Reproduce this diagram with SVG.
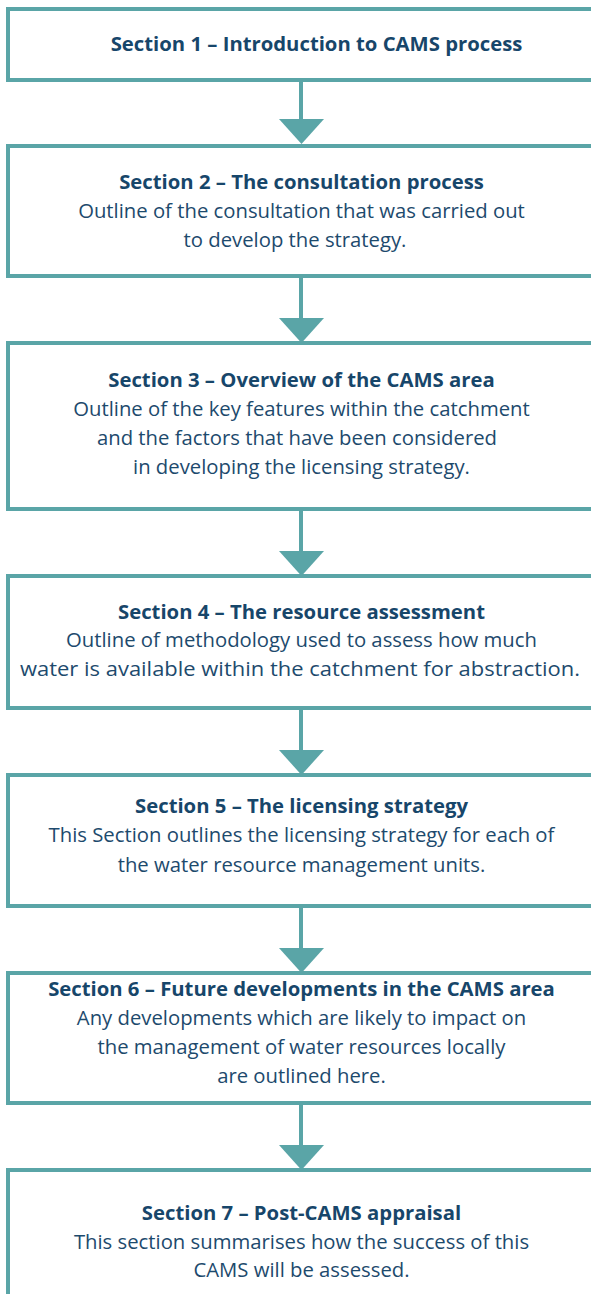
<svg xmlns="http://www.w3.org/2000/svg" width="591" height="1294" viewBox="0 0 591 1294">
  <style>
    .box { fill: #ffffff; stroke: #5aa5a7; stroke-width: 4; }
    .link { stroke: #5aa5a7; stroke-width: 4; fill: none; }
    .head { fill: #5aa5a7; stroke: none; }
    text { font-family: "Open Sans", "Liberation Sans", sans-serif; font-size: 20.3px; fill: #1d4a6d; text-anchor: middle; }
    .title { font-weight: bold; fill: #17466a; }
  </style>
  <rect width="591" height="1294" fill="#ffffff"/>

  <!-- connectors: shaft plus solid triangular head -->
  <g id="connectors">
    <line class="link" x1="301" y1="82" x2="301" y2="120"/>
    <polygon class="head" points="279,119 324,119 301.5,144"/>
    <line class="link" x1="301" y1="278" x2="301" y2="319"/>
    <polygon class="head" points="279,318 324,318 301.5,343"/>
    <line class="link" x1="301" y1="511" x2="301" y2="552"/>
    <polygon class="head" points="279,551 324,551 301.5,576"/>
    <line class="link" x1="301" y1="710" x2="301" y2="751"/>
    <polygon class="head" points="279,750 324,750 301.5,775"/>
    <line class="link" x1="301" y1="908" x2="301" y2="949"/>
    <polygon class="head" points="279,948 324,948 301.5,973"/>
    <line class="link" x1="301" y1="1105" x2="301" y2="1146"/>
    <polygon class="head" points="279,1145 324,1145 301.5,1170"/>
  </g>

  <g id="section1">
    <rect class="box" x="8" y="9" width="600" height="71"/>
    <text class="title" x="316.5" y="51">Section 1 – Introduction to CAMS process</text>
  </g>

  <g id="section2">
    <rect class="box" x="8" y="146" width="600" height="130"/>
    <text class="title" x="301.5" y="189">Section 2 – The consultation process</text>
    <text x="301.5" y="218">Outline of the consultation that was carried out</text>
    <text x="295" y="247">to develop the strategy.</text>
  </g>

  <g id="section3">
    <rect class="box" x="8" y="343" width="600" height="166"/>
    <text class="title" x="301.5" y="387">Section 3 – Overview of the CAMS area</text>
    <text x="301.5" y="416">Outline of the key features within the catchment</text>
    <text x="297" y="445">and the factors that have been considered</text>
    <text x="301.5" y="474">in developing the licensing strategy.</text>
  </g>

  <g id="section4">
    <rect class="box" x="8" y="576" width="600" height="132"/>
    <text class="title" x="301.5" y="619">Section 4 – The resource assessment</text>
    <text x="301.5" y="647">Outline of methodology used to assess how much</text>
    <text x="300" y="676" textLength="560" lengthAdjust="spacingAndGlyphs">water is available within the catchment for abstraction.</text>
  </g>

  <g id="section5">
    <rect class="box" x="8" y="775" width="600" height="131"/>
    <text class="title" x="301.5" y="813">Section 5 – The licensing strategy</text>
    <text x="301.5" y="842">This Section outlines the licensing strategy for each of</text>
    <text x="301.5" y="872">the water resource management units.</text>
  </g>

  <g id="section6">
    <rect class="box" x="8" y="973" width="600" height="130"/>
    <text class="title" x="301.5" y="996">Section 6 – Future developments in the CAMS area</text>
    <text x="301.5" y="1025">Any developments which are likely to impact on</text>
    <text x="301.5" y="1054">the management of water resources locally</text>
    <text x="301.5" y="1083">are outlined here.</text>
  </g>

  <g id="section7">
    <rect class="box" x="8" y="1170" width="600" height="200"/>
    <text class="title" x="301.5" y="1220">Section 7 – Post-CAMS appraisal</text>
    <text x="301.5" y="1249">This section summarises how the success of this</text>
    <text x="301.5" y="1277">CAMS will be assessed.</text>
  </g>
</svg>
